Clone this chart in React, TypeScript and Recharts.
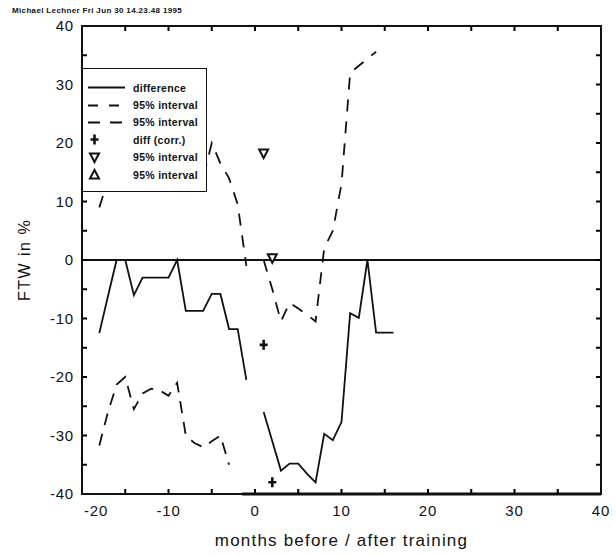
import {
  ComposedChart,
  Label,
  Legend,
  Line,
  ReferenceLine,
  Scatter,
  XAxis,
  YAxis,
} from 'recharts';

// months relative to training start (0 = training, no estimate)
const months = [
  -18, -17, -16, -15, -14, -13, -12, -11, -10, -9, -8, -7, -6, -5, -4, -3, -2, -1,
  0,
  1, 2, 3, 4, 5, 6, 7, 8, 9, 10, 11, 12, 13, 14, 15, 16,
];

const difference = [
  -12.5, -6.2, 0, 0, -6, -3, -3, -3, -3, 0, -8.7, -8.7, -8.7, -5.8, -5.8, -11.8, -11.8, -20.5,
  null,
  -26, -31, -36, -34.8, -34.8, -36.5, -38, -29.7, -30.8, -27.7, -9.1, -9.9, 0, -12.4, -12.4, -12.4,
];

// upper bound (partly hidden behind the legend box)
const upper = [
  9, 13.6, 21.5, 22, 12.8, 16.8, 16, 16.5, 17, 21, 13, 14, 14, 20, 16.5, 14, 9.5, -1,
  null,
  0, -5, -10.5, -7.3, -8.3, -9.3, -10.5, 2, 5, 13, 32, 33.2, 34.4, 35.6, null, null,
];

// lower bound, runs off the bottom of the plot after month -3
const lower = [
  -31.7, -26, -21.3, -20, -25.5, -22.8, -22, -22.3, -23.2, -21, -30, -31.3, -32, -31, -30, -35, null, null,
  null,
  null, null, null, null, null, null, null, null, null, null, null, null, null, null, null, null,
];

const corrMonths = [1, 2];
const diffCorr = [-14.5, -38];
const upperCorr = [18.2, 0.3];

const xTicks = [-20, -15, -10, -5, 0, 5, 10, 15, 20, 25, 30, 35, 40];
const yTicks = [-40, -35, -30, -25, -20, -15, -10, -5, 0, 5, 10, 15, 20, 25, 30, 35, 40];

const legendItems = [
  { kind: 'solid', text: 'difference' },
  { kind: 'dash', text: '95% interval' },
  { kind: 'dash2', text: '95% interval' },
  { kind: 'plus', text: 'diff (corr.)' },
  { kind: 'down', text: '95% interval' },
  { kind: 'up', text: '95% interval' },
];

const rows = months.map((m, i) => ({
  month: m,
  diff: difference[i],
  upper: upper[i],
  lower: lower[i],
}));

const corrRows = corrMonths.map((m, i) => ({
  month: m,
  corr: diffCorr[i],
  corrUp: upperCorr[i],
}));

const FONT = '"Liberation Sans", Arial, sans-serif';
const INK = '#111';
const TICK = 5;

const W = 616;
const H = 556;
const MARGIN = { top: 26, right: 15, bottom: 32, left: 0 };
const Y_AXIS_W = 82;
const X_AXIS_H = 30;
const PLOT_W = W - MARGIN.left - MARGIN.right - Y_AXIS_W;
const PLOT_H = H - MARGIN.top - MARGIN.bottom - X_AXIS_H;

const PlusMark = (props: any) => {
  const { cx, cy } = props;
  if (cx == null || cy == null) return null;
  return (
    <path
      d={`M${cx - 4},${cy} H${cx + 4} M${cx},${cy - 5} V${cy + 5}`}
      stroke={INK}
      strokeWidth={2.6}
      fill="none"
    />
  );
};

const DownMark = (props: any) => {
  const { cx, cy } = props;
  if (cx == null || cy == null) return null;
  return (
    <polygon
      points={`${cx - 4.5},${cy - 4} ${cx + 4.5},${cy - 4} ${cx},${cy + 4.5}`}
      stroke={INK}
      strokeWidth={2}
      fill="#fff"
    />
  );
};

// bottom axis: inward tick, mirrored tick on the top edge, label every 10
const bottomTick = (props: any) => {
  const { x, y, payload } = props;
  const v = payload.value;
  const first = v === xTicks[0];
  return (
    <g>
      <line x1={x} y1={y} x2={x} y2={y - TICK} stroke="black" strokeWidth={2} />
      <line x1={x} y1={y - PLOT_H} x2={x} y2={y - PLOT_H + TICK} stroke="black" strokeWidth={2} />
      {v % 10 === 0 && (
        <text
          x={first ? x + 2 : x}
          y={y + 11}
          dy="0.71em"
          textAnchor={first ? 'start' : 'middle'}
          fontFamily={FONT}
          fontSize={15}
          letterSpacing={0.8}
          fill={INK}
        >
          {String(v)}
        </text>
      )}
    </g>
  );
};

// left axis: inward tick, mirrored tick on the right edge, label every 10
const leftTick = (props: any) => {
  const { x, y, payload } = props;
  const v = payload.value;
  return (
    <g>
      <line x1={x} y1={y} x2={x + TICK} y2={y} stroke="black" strokeWidth={2} />
      <line x1={x + PLOT_W} y1={y} x2={x + PLOT_W - TICK} y2={y} stroke="black" strokeWidth={2} />
      {v % 10 === 0 && (
        <text
          x={x - 8}
          y={y}
          dy="0.355em"
          textAnchor="end"
          fontFamily={FONT}
          fontSize={15}
          letterSpacing={0.8}
          fill={INK}
        >
          {String(v)}
        </text>
      )}
    </g>
  );
};

const YTitle = (props: any) => {
  const vb = props.viewBox || { y: MARGIN.top, height: PLOT_H };
  const cy = vb.y + vb.height / 2;
  return (
    <text
      x={24}
      y={cy}
      transform={`rotate(-90 24 ${cy})`}
      textAnchor="middle"
      dominantBaseline="central"
      fontFamily={FONT}
      fontSize={16}
      letterSpacing={1.5}
      fill={INK}
    >
      FTW in %
    </text>
  );
};

function LegendSample({ kind }: { kind: string }) {
  return (
    <svg width={46} height={17} style={{ display: 'block', flex: 'none' }}>
      {kind === 'solid' && <line x1={6} y1={8.5} x2={43} y2={8.5} stroke={INK} strokeWidth={1.8} />}
      {kind === 'dash' && (
        <line x1={6} y1={8.5} x2={43} y2={8.5} stroke={INK} strokeWidth={1.8} strokeDasharray="10 11" />
      )}
      {kind === 'dash2' && (
        <line x1={6} y1={8.5} x2={43} y2={8.5} stroke={INK} strokeWidth={1.8} strokeDasharray="12 10" />
      )}
      {kind === 'plus' && <PlusMark cx={12.5} cy={8.5} />}
      {kind === 'down' && <DownMark cx={12.5} cy={8.5} />}
      {kind === 'up' && (
        <polygon points="8,12.5 17,12.5 12.5,4" stroke={INK} strokeWidth={2} fill="#fff" />
      )}
    </svg>
  );
}

const renderLegend = () => (
  <div
    style={{
      boxSizing: 'border-box',
      width: 126,
      height: 124,
      border: `1.6px solid ${INK}`,
      background: '#fff',
      paddingTop: 10,
    }}
  >
    {legendItems.map((it, i) => (
      <div key={i} style={{ display: 'flex', alignItems: 'center', height: 17.4 }}>
        <LegendSample kind={it.kind} />
        <span
          style={{
            marginLeft: 5,
            fontFamily: FONT,
            fontSize: 10.5,
            fontWeight: 'bold',
            letterSpacing: 0.3,
            color: INK,
            whiteSpace: 'nowrap',
          }}
        >
          {it.text}
        </span>
      </div>
    ))}
  </div>
);

export default function App() {
  const plotLeft = MARGIN.left + Y_AXIS_W;
  return (
    <div style={{ position: 'absolute', left: 0, top: 0, width: W, height: H, background: '#fff' }}>
      <div style={{ position: 'absolute', left: 0, top: 0, width: W, height: H }}>
        <ComposedChart width={W} height={H} data={rows} margin={MARGIN}>
          <XAxis
            dataKey="month"
            type="number"
            domain={[-20, 40]}
            ticks={xTicks}
            height={X_AXIS_H}
            axisLine={false}
            tickLine={false}
            tickSize={0}
            tickMargin={0}
            tick={bottomTick}
          >
            <Label
              value="months before / after training"
              position="bottom"
              offset={10}
              fontFamily={FONT}
              fontSize={17}
              letterSpacing={1.2}
              fill={INK}
            />
          </XAxis>
          <YAxis
            type="number"
            domain={[-40, 40]}
            ticks={yTicks}
            width={Y_AXIS_W}
            axisLine={false}
            tickLine={false}
            tickSize={0}
            tickMargin={0}
            tick={leftTick}
            label={<YTitle />}
          />
          <ReferenceLine y={0} stroke={INK} strokeWidth={1.8} />
          <ReferenceLine
            segment={[
              { x: -1.5, y: -40 },
              { x: 40, y: -40 },
            ]}
            stroke={INK}
            strokeWidth={3}
            ifOverflow="visible"
          />
          <Line
            dataKey="diff"
            stroke={INK}
            strokeWidth={1.8}
            dot={false}
            activeDot={false}
            connectNulls={false}
            isAnimationActive={false}
          />
          <Line
            dataKey="upper"
            stroke={INK}
            strokeWidth={1.8}
            strokeDasharray="12 10"
            dot={false}
            activeDot={false}
            connectNulls={false}
            isAnimationActive={false}
          />
          <Line
            dataKey="lower"
            stroke={INK}
            strokeWidth={1.8}
            strokeDasharray="12 9"
            dot={false}
            activeDot={false}
            connectNulls={false}
            isAnimationActive={false}
          />
          <Scatter data={corrRows} dataKey="corr" shape={PlusMark} isAnimationActive={false} />
          <Scatter data={corrRows} dataKey="corrUp" shape={DownMark} isAnimationActive={false} />
          <Legend
            content={renderLegend}
            layout="vertical"
            align="center"
            verticalAlign="middle"
            wrapperStyle={{ left: 81, top: 68, width: 126, height: 124 }}
          />
        </ComposedChart>
      </div>
      {/* plot frame */}
      <div
        style={{
          position: 'absolute',
          left: plotLeft - 1,
          top: MARGIN.top - 1,
          width: PLOT_W + 2,
          height: PLOT_H + 2,
          boxSizing: 'border-box',
          border: '2px solid #111',
          pointerEvents: 'none',
        }}
      />
      <div
        style={{
          position: 'absolute',
          left: 12,
          top: 6,
          fontFamily: FONT,
          fontSize: 8,
          fontWeight: 'bold',
          letterSpacing: 0.35,
          color: INK,
          whiteSpace: 'nowrap',
        }}
      >
        Michael Lechner Fri Jun 30 14.23.48 1995
      </div>
    </div>
  );
}
